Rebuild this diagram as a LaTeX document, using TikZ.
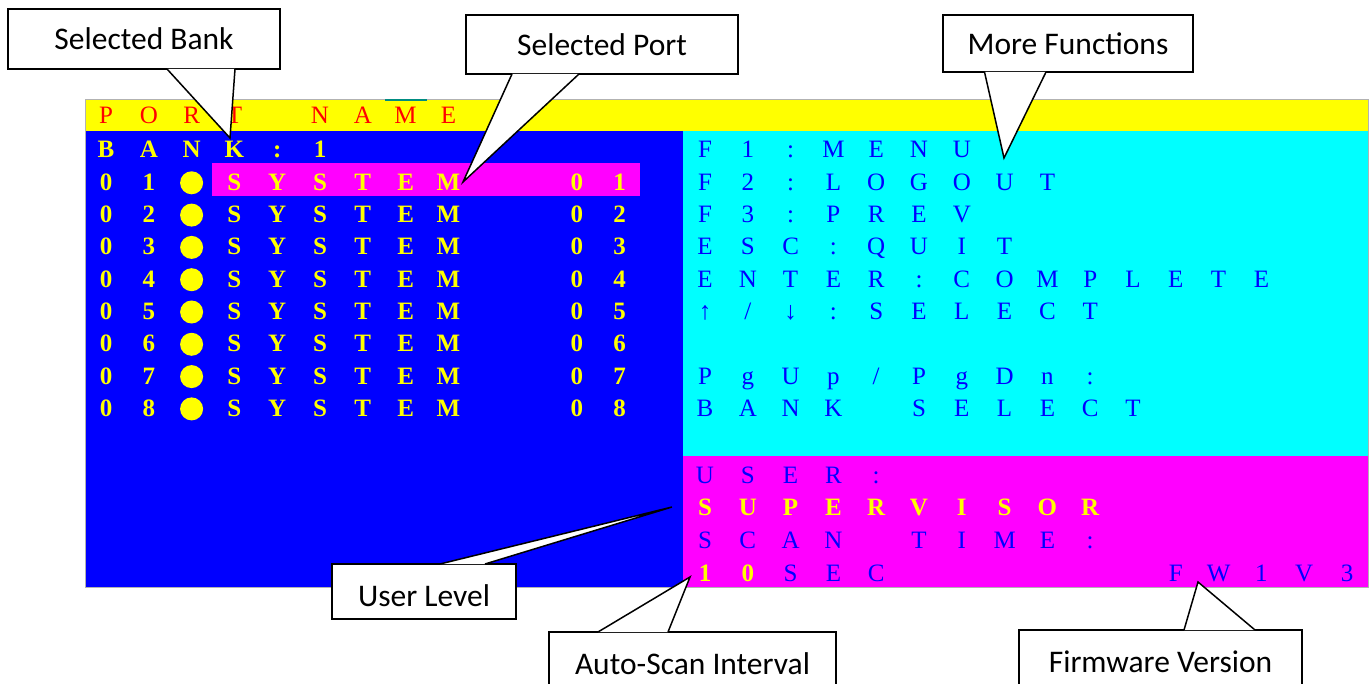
\documentclass[tikz,border=0pt]{standalone}
\usepackage{fontspec}
\newfontfamily\screenfont{Liberation Serif}
\newfontfamily\labelfont{Carlito}
\definecolor{scrYellow}{RGB}{255,255,0}
\definecolor{scrBlue}{RGB}{0,0,255}
\definecolor{scrCyan}{RGB}{0,255,255}
\definecolor{scrMagenta}{RGB}{255,0,255}
\definecolor{scrRed}{RGB}{255,0,0}
\definecolor{scrTeal}{RGB}{0,140,130}
\tikzstyle{cell} = [anchor=base, inner sep=0pt, font=\screenfont\fontsize{25}{28}\selectfont]
\tikzstyle{yelCell} = [cell, text=scrYellow, font=\screenfont\bfseries\fontsize{25}{28}\selectfont]
\tikzstyle{bluCell} = [cell, text=scrBlue]
\tikzstyle{redCell} = [cell, text=scrRed]
\tikzstyle{dot} = [circle, fill=scrYellow, inner sep=0pt, minimum size=23pt]
\tikzstyle{callBox} = [rectangle, draw=black, fill=white, line width=1.5pt, inner sep=0pt, font=\labelfont\fontsize{31.5}{36}\selectfont]
\tikzstyle{wedge} = [draw=black, fill=white, line width=1.5pt]

\begin{document}
\begin{tikzpicture}[x=1pt, y=-1pt]
    \useasboundingbox (0,0) rectangle (1372,684);

    % screen
    \fill[scrYellow] (85,100) rectangle (1368,131);
    \fill[scrBlue] (85,131) rectangle (683,587);
    \fill[scrCyan] (683,131) rectangle (1368,456);
    \fill[scrMagenta] (683,456) rectangle (1368,587);
    \draw[gray!60, line width=1pt] (85,100) rectangle (1368,587);
    \draw[scrTeal, line width=1.5pt] (385,100) -- (427,100);
    \fill[scrMagenta] (212,163) rectangle (640,196);

    % left half
    \foreach \c/\k in {P/0,O/1,R/2,T/3,N/5,A/6,M/7,E/8}
        \node[redCell] (head\k) at (106+42.8*\k, 124) {\c};
    \foreach \c [count=\k from 0] in {B,A,N,K,:,1}
        \node[yelCell] (bank\k) at (106+42.8*\k, 158) {\c};
    \foreach \r in {1,...,8} {
        \node[yelCell] (num\r) at (106, 158+32.3*\r) {0};
        \node[yelCell] (idx\r) at (148.8, 158+32.3*\r) {\r};
        \node[dot] (dot\r) at (191.6, 150.5+32.3*\r) {};
        \foreach \c [count=\k from 3] in {S,Y,S,T,E,M}
            \node[yelCell] (sys\r-\k) at (106+42.8*\k, 158+32.3*\r) {\c};
        \node[yelCell] (pnum\r) at (576.8, 158+32.3*\r) {0};
        \node[yelCell] (pidx\r) at (619.6, 158+32.3*\r) {\r};
    }

    % right half
    \foreach \c [count=\k from 0] in {F,1,:,M,E,N,U}
        \node[bluCell] (fa\k) at (705+42.8*\k, 158) {\c};
    \foreach \c [count=\k from 0] in {F,2,:,L,O,G,O,U,T}
        \node[bluCell] (fb\k) at (705+42.8*\k, 190.3) {\c};
    \foreach \c [count=\k from 0] in {F,3,:,P,R,E,V}
        \node[bluCell] (fc\k) at (705+42.8*\k, 222.6) {\c};
    \foreach \c [count=\k from 0] in {E,S,C,:,Q,U,I,T}
        \node[bluCell] (esc\k) at (705+42.8*\k, 254.9) {\c};
    \foreach \c [count=\k from 0] in {E,N,T,E,R,:,C,O,M,P,L,E,T,E}
        \node[bluCell] (ent\k) at (705+42.8*\k, 287.2) {\c};
    \foreach \c [count=\k from 0] in {↑,/,↓,:,S,E,L,E,C,T}
        \node[bluCell] (arr\k) at (705+42.8*\k, 319.5) {\c};
    \foreach \c [count=\k from 0] in {P,g,U,p,/,P,g,D,n,:}
        \node[bluCell] (pg\k) at (705+42.8*\k, 384.1) {\c};
    \foreach \c/\k in {B/0,A/1,N/2,K/3,S/5,E/6,L/7,E/8,C/9,T/10}
        \node[bluCell] (bsel\k) at (705+42.8*\k, 416.4) {\c};

    % status
    \foreach \c [count=\k from 0] in {U,S,E,R,:}
        \node[bluCell] (usr\k) at (705+42.8*\k, 483) {\c};
    \foreach \c [count=\k from 0] in {S,U,P,E,R,V,I,S,O,R}
        \node[yelCell] (sup\k) at (705+42.8*\k, 515.7) {\c};
    \foreach \c/\k in {S/0,C/1,A/2,N/3,T/5,I/6,M/7,E/8,:/9}
        \node[bluCell] (scn\k) at (705+42.8*\k, 548.4) {\c};
    \foreach \c/\k in {1/0,0/1}
        \node[yelCell] (sec\k) at (705+42.8*\k, 581) {\c};
    \foreach \c/\k in {S/2,E/3,C/4,F/11,W/12,1/13,V/14,3/15}
        \node[bluCell] (sec\k) at (705+42.8*\k, 581) {\c};

    % callouts
    \coordinate (bankTip) at (230,138);
    \coordinate (portTip) at (463,182);
    \coordinate (moreTip) at (1004,158);
    \coordinate (userTip) at (672,507);
    \coordinate (scanTip) at (690,577);
    \coordinate (fwTip) at (1198,582);

    \node[callBox, minimum width=272pt, minimum height=60pt] (bankNote) at (144,39) {Selected Bank};
    \filldraw[wedge] ([xshift=23pt,yshift=0.75pt]bankNote.south) -- (bankTip) -- ([xshift=91pt,yshift=0.75pt]bankNote.south);
    \node[callBox, minimum width=272pt, minimum height=59pt] (portNote) at (602,44.5) {Selected Port};
    \filldraw[wedge] ([xshift=-90pt,yshift=0.75pt]portNote.south) -- (portTip) -- ([xshift=-23pt,yshift=0.75pt]portNote.south);
    \node[callBox, minimum width=250pt, minimum height=57pt] (moreNote) at (1068,43.5) {More Functions};
    \filldraw[wedge] ([xshift=-83.5pt,yshift=0.75pt]moreNote.south) -- (moreTip) -- ([xshift=-22pt,yshift=0.75pt]moreNote.south);
    \node[callBox, minimum width=184pt, minimum height=55pt, text height=29pt, text depth=0pt] (userNote) at (424,591.5) {User Level};
    \filldraw[wedge] ([xshift=16pt,yshift=-0.75pt]userNote.north) -- (userTip) -- ([xshift=61pt,yshift=-0.75pt]userNote.north);
    \node[callBox, minimum width=287pt, minimum height=64pt] (scanNote) at (692.5,664) {Auto-Scan Interval};
    \filldraw[wedge] ([xshift=-94.5pt,yshift=-0.75pt]scanNote.north) -- (scanTip) -- ([xshift=-24.5pt,yshift=-0.75pt]scanNote.north);
    \node[callBox, minimum width=283pt, minimum height=64pt] (fwNote) at (1160.5,662) {Firmware Version};
    \filldraw[wedge] ([xshift=23.5pt,yshift=-0.75pt]fwNote.north) -- (fwTip) -- ([xshift=94.5pt,yshift=-0.75pt]fwNote.north);
\end{tikzpicture}
\end{document}
